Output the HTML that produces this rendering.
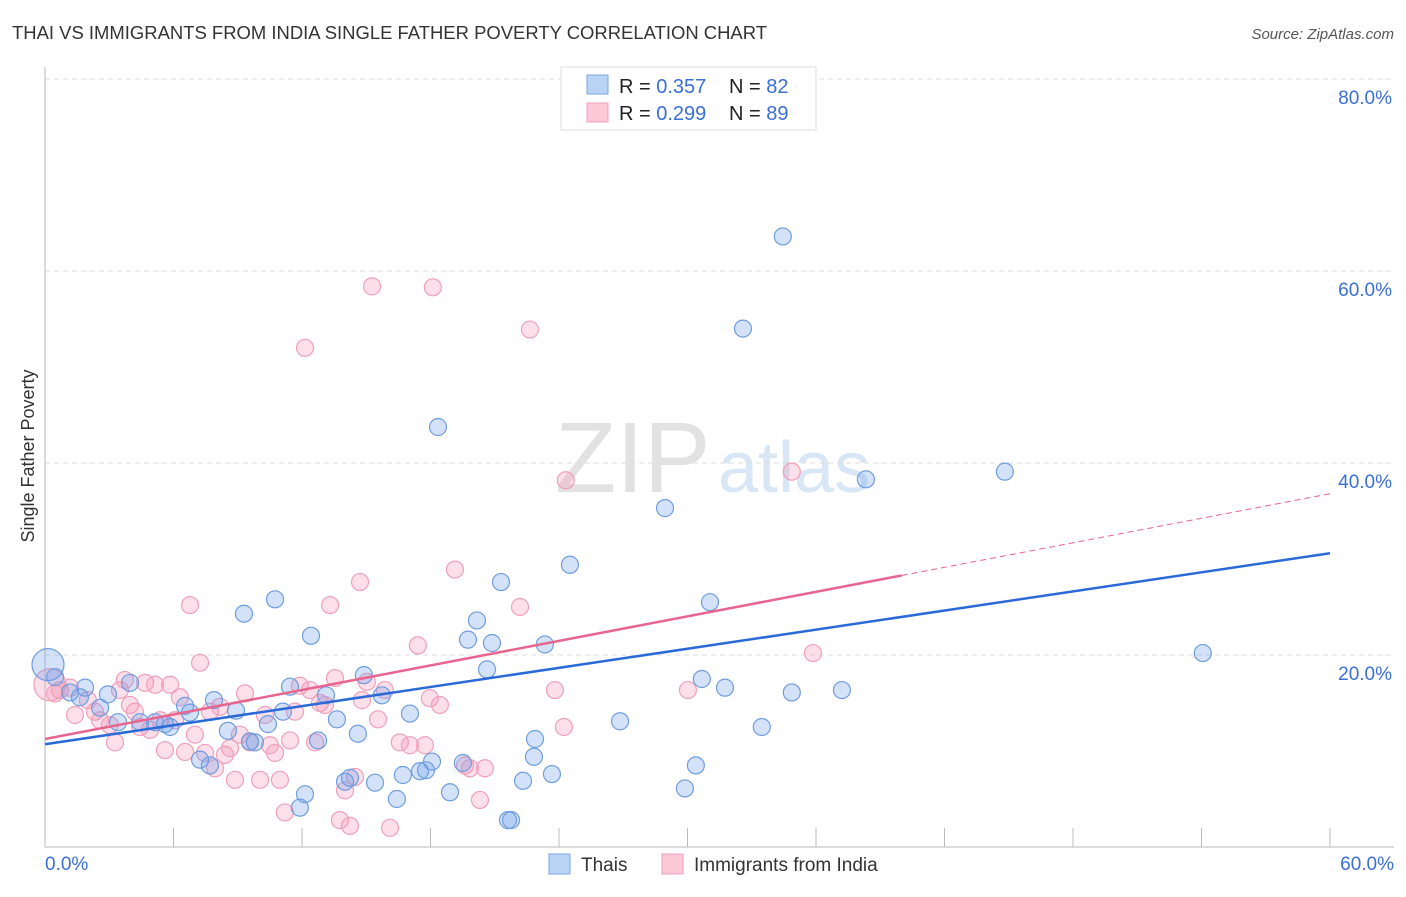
<!DOCTYPE html>
<html><head><meta charset="utf-8"><style>
body{margin:0;background:#fff;font-family:"Liberation Sans",sans-serif}
svg text{font-family:"Liberation Sans",sans-serif}
</style></head><body>
<svg id="chart" width="1406" height="892">
<text x="12" y="39" font-size="18" fill="#333" textLength="755" lengthAdjust="spacingAndGlyphs">THAI VS IMMIGRANTS FROM INDIA SINGLE FATHER POVERTY CORRELATION CHART</text>
<text x="1394" y="39" font-size="15" fill="#555" font-style="italic" text-anchor="end">Source: ZipAtlas.com</text>
<text x="34" y="456" font-size="18" fill="#333" text-anchor="middle" transform="rotate(-90 34 456)">Single Father Poverty</text>
<text x="555" y="492" font-size="100" fill="#e2e2e2" font-family="Liberation Serif">ZIP</text>
<text x="718" y="492" font-size="72" fill="#d9e6f6">atlas</text>
<g id="grid"></g><g id="axes"></g><g id="pts"></g><g id="lines"></g>
<g>
<rect x="561" y="67" width="255" height="63" fill="#fff" stroke="#ddd"/>
<rect x="587" y="75" width="21" height="19" fill="#b9d3f5" stroke="#7aa5e0"/>
<rect x="587" y="103" width="21" height="19" fill="#fcc9d8" stroke="#f0a0bb"/>
<text x="619" y="93" font-size="20" fill="#222">R = <tspan fill="#3a6fd8">0.357</tspan></text>
<text x="729" y="93" font-size="20" fill="#222">N = <tspan fill="#3a6fd8">82</tspan></text>
<text x="619" y="120" font-size="20" fill="#222">R = <tspan fill="#3a6fd8">0.299</tspan></text>
<text x="729" y="120" font-size="20" fill="#222">N = <tspan fill="#3a6fd8">89</tspan></text>
</g>
<g>
<rect x="549" y="854" width="21" height="20" fill="#b9d3f5" stroke="#7aa5e0"/>
<text x="581" y="871" font-size="19" fill="#333">Thais</text>
<rect x="662" y="854" width="21" height="20" fill="#fcc9d8" stroke="#f0a0bb"/>
<text x="694" y="871" font-size="19" fill="#333">Immigrants from India</text>
</g>
</svg>
<script>
const yTicks=[20,40,60,80];
const xTickVals=[0,6,12,18,24,30,36,42,48,54,60];
const blueX=[0.14,0.47,1.17,1.87,1.63,2.94,2.57,3.41,3.97,4.44,5.14,5.6,5.84,6.54,6.77,7.24,7.7,7.89,8.54,8.92,9.29,9.57,9.8,10.41,10.74,11.11,11.44,12.14,11.9,12.42,12.75,13.12,13.63,14.01,14.24,14.61,14.89,15.41,15.73,16.43,16.71,17.04,17.51,17.79,18.07,18.35,18.91,19.51,19.75,20.17,20.64,20.87,21.29,21.62,21.76,22.32,22.88,22.83,23.34,23.67,24.51,26.85,28.95,29.88,30.39,30.67,31.05,31.75,32.59,33.47,34.45,34.87,37.21,38.33,44.82,54.06];
const blueY=[19,17.7,16.1,16.6,15.6,15.9,14.5,13,17.1,13,13,12.8,12.5,14.7,14,9.1,8.5,15.3,12.1,14.2,24.3,11,10.9,12.8,25.8,14.1,16.7,5.5,4.1,22,11.1,15.8,13.3,6.8,7.2,11.8,17.9,6.7,15.8,5,7.5,13.9,7.9,8,8.9,43.75,5.7,8.75,21.6,23.6,18.5,21.25,27.6,2.8,2.8,6.9,11.25,9.4,21.1,7.6,29.4,13.1,35.3,6.1,8.5,17.5,25.5,16.6,54,12.5,63.6,16.1,16.35,38.3,39.1,20.2];
const pinkX=[0.23,0.47,0.7,1.17,1.4,2,2.33,2.57,3.03,3.27,3.5,3.73,3.97,4.2,4.44,4.67,4.9,5.14,5.37,5.6,5.84,6.07,6.3,6.54,6.77,7,7.24,7.47,7.7,7.94,8.17,8.4,8.64,8.87,9.1,9.34,9.57,10.04,10.27,10.5,10.74,10.97,11.2,11.44,11.67,11.9,12.14,12.37,12.61,12.84,13.07,13.31,13.54,13.77,14.01,14.24,14.47,14.71,14.8,15.03,15.27,15.55,15.87,16.11,16.57,17.04,17.41,17.74,17.97,18.11,18.44,19.14,19.61,19.84,20.31,20.54,22.18,22.64,23.81,24.23,24.32,30.02,34.87,35.86];
const pinkY=[16.9,16,16.35,16.6,13.75,15.3,14.1,13.2,12.7,10.9,16.35,17.4,14.8,14.1,12.5,17.1,12.2,16.9,13.2,10.1,16.9,13.2,15.6,9.9,25.2,11.7,19.2,9.8,14.1,8.2,14.6,9.6,10.3,7,11.7,16,10.9,7,13.75,10.6,9.8,7,3.6,11.1,14.1,16.8,52,16.35,10.9,15,14.8,25.2,17.6,2.8,5.9,2.2,7.3,27.6,15.3,17.2,58.4,13.3,16.35,2,10.9,10.6,21,10.6,15.5,58.3,14.8,28.9,8.5,8.2,4.9,8.2,25,53.9,16.35,12.5,38.2,16.35,39.1,20.2];
const blueLine=[10.7,30.6];
const pinkLine=[11.25,36.8];
const pinkSolidEnd=40;
const NS='http://www.w3.org/2000/svg';
const xs=v=>45+v*(1330-45)/60;
const ys=v=>847-v*9.6;
function mk(tag,parent,attrs){const e=document.createElementNS(NS,tag);for(const k in attrs)e.setAttribute(k,attrs[k]);document.getElementById(parent).appendChild(e);return e;}
yTicks.forEach(t=>{
 const l=mk('line','grid',{x1:45,x2:1394,y1:ys(t),y2:ys(t),stroke:'#ddd','stroke-dasharray':'5,4'});
 
 
 const tx=mk('text','grid',{x:1392,y:ys(t)+25,'font-size':19,fill:'#3a6fd8','text-anchor':'end'});
 tx.textContent=t.toFixed(1)+'%';
 
 
});
const ax=mk('line','axes',{x1:45,x2:45,y1:67,y2:847,stroke:'#bbb'});


const bx=mk('line','axes',{x1:45,x2:1394,y1:847,y2:847,stroke:'#bbb'});


xTickVals.forEach(t=>{
 const l=mk('line','axes',{x1:xs(t),x2:xs(t),y1:828,y2:847,stroke:'#bbb'});
 
 
});
const xl0=mk('text','axes',{x:45,y:870,'font-size':19,fill:'#3a6fd8'});xl0.textContent='0.0%';


const xl1=mk('text','axes',{x:1394,y:870,'font-size':19,fill:'#3a6fd8','text-anchor':'end'});xl1.textContent='60.0%';


function dots(X,Y,fill,stroke,name){
 X.forEach((x,i)=>{
  const c=mk('circle','pts',{cx:xs(x),cy:ys(Y[i]),r:i===0?16:8.5,fill:fill,stroke:stroke,'stroke-width':1.2});
  
  
 });
}
dots(pinkX,pinkY,'rgba(245,150,180,0.3)','#f0a0bb','india-point');
dots(blueX,blueY,'rgba(110,160,235,0.3)','#6f9de0','thais-point');
const lb=mk('line','lines',{x1:xs(0),y1:ys(blueLine[0]),x2:xs(60),y2:ys(blueLine[1]),stroke:'#2a6ad8','stroke-width':2.5});


const pAt=x=>pinkLine[0]+(pinkLine[1]-pinkLine[0])*x/60;
const lp=mk('line','lines',{x1:xs(0),y1:ys(pinkLine[0]),x2:xs(pinkSolidEnd),y2:ys(pAt(pinkSolidEnd)),stroke:'#e8658f','stroke-width':2.5});


const lpd=mk('line','lines',{x1:xs(pinkSolidEnd),y1:ys(pAt(pinkSolidEnd)),x2:xs(60),y2:ys(pinkLine[1]),stroke:'#e8658f','stroke-width':1,'stroke-dasharray':'6,4'});


</script>
</body></html>
